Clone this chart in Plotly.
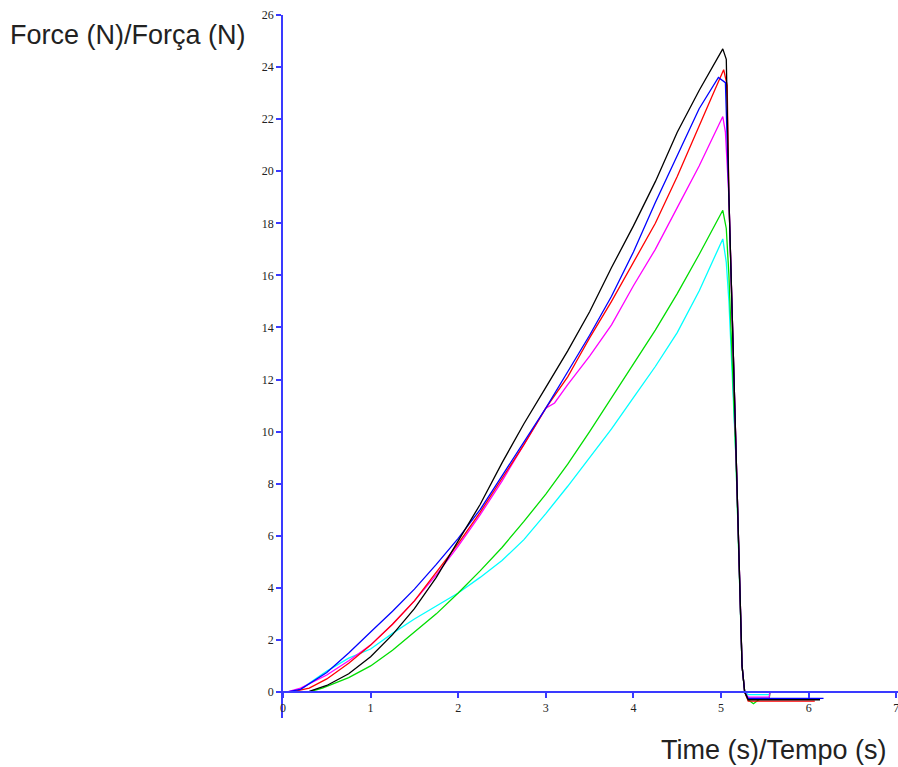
import plotly.graph_objects as go

# ---- data (time in s, force in N) ----
black_t = [0, 0.3, 0.5, 0.75, 1.0, 1.25, 1.5, 1.75, 2.0, 2.25, 2.5, 2.75, 3.0, 3.25, 3.5, 3.75, 4.0, 4.25, 4.5, 4.75, 5.02, 5.06, 5.09, 5.17, 5.24, 5.27, 5.31, 6.13]
black_f = [0, 0.02, 0.25, 0.7, 1.35, 2.2, 3.2, 4.4, 5.8, 7.2, 8.8, 10.3, 11.7, 13.1, 14.6, 16.3, 17.9, 19.6, 21.5, 23.1, 24.7, 24.3, 19.0, 9.0, 1.0, 0.0, -0.3, -0.3]

blue_t = [0.05, 0.2, 0.5, 0.75, 1.0, 1.25, 1.5, 1.75, 2.0, 2.25, 2.5, 2.75, 3.0, 3.25, 3.5, 3.75, 4.0, 4.25, 4.5, 4.75, 4.97, 5.05, 5.09, 5.17, 5.24, 5.27, 5.31, 6.17]
blue_f = [0, 0.1, 0.75, 1.5, 2.3, 3.1, 3.95, 4.9, 5.9, 7.0, 8.3, 9.6, 10.9, 12.3, 13.7, 15.2, 16.9, 18.8, 20.6, 22.4, 23.6, 23.4, 19.0, 9.0, 1.0, 0.0, -0.25, -0.25]

red_t = [0.1, 0.3, 0.5, 0.75, 1.0, 1.25, 1.5, 1.75, 2.0, 2.25, 2.5, 2.75, 3.0, 3.25, 3.35, 3.5, 3.75, 4.0, 4.25, 4.5, 4.75, 4.9, 5.03, 5.07, 5.09, 5.17, 5.24, 5.27, 5.31, 6.07]
red_f = [0, 0.15, 0.5, 1.1, 1.8, 2.6, 3.5, 4.6, 5.7, 6.9, 8.2, 9.5, 10.9, 12.1, 12.7, 13.6, 15.0, 16.5, 18.0, 19.8, 21.7, 22.9, 23.9, 23.3, 19.0, 9.0, 1.0, 0.0, -0.35, -0.35]

magenta_t = [0.05, 0.2, 0.5, 0.75, 1.0, 1.25, 1.5, 1.75, 2.0, 2.25, 2.5, 2.75, 3.0, 3.1, 3.25, 3.5, 3.75, 4.0, 4.25, 4.5, 4.75, 5.02, 5.05, 5.09, 5.17, 5.24, 5.27, 5.31, 5.55, 5.56, 6.02]
magenta_f = [0, 0.15, 0.65, 1.2, 1.8, 2.6, 3.5, 4.5, 5.6, 6.8, 8.1, 9.5, 10.9, 11.1, 11.8, 12.9, 14.1, 15.6, 17.0, 18.6, 20.2, 22.1, 21.5, 19.0, 9.0, 1.0, 0.0, -0.2, -0.2, 0.0, 0.0]

green_t = [0.3, 0.45, 0.75, 1.0, 1.25, 1.5, 1.75, 2.0, 2.25, 2.5, 2.75, 3.0, 3.25, 3.5, 3.75, 4.0, 4.25, 4.5, 4.75, 5.02, 5.06, 5.09, 5.17, 5.24, 5.27, 5.31, 5.37, 5.45, 5.55, 5.56, 6.05]
green_f = [0, 0.15, 0.55, 1.0, 1.6, 2.3, 3.0, 3.8, 4.65, 5.55, 6.55, 7.6, 8.75, 10.0, 11.3, 12.6, 13.9, 15.3, 16.8, 18.5, 17.8, 16.0, 9.0, 1.0, 0.0, -0.3, -0.45, -0.25, -0.25, 0.0, 0.0]

cyan_t = [0.1, 0.2, 0.5, 0.75, 1.0, 1.25, 1.5, 1.75, 2.0, 2.25, 2.5, 2.75, 3.0, 3.25, 3.5, 3.75, 4.0, 4.25, 4.5, 4.75, 5.02, 5.06, 5.09, 5.17, 5.24, 5.27, 5.31, 5.55, 5.56, 5.7]
cyan_f = [0, 0.1, 0.8, 1.3, 1.65, 2.25, 2.8, 3.3, 3.8, 4.4, 5.05, 5.85, 6.85, 7.9, 9.0, 10.1, 11.3, 12.5, 13.8, 15.4, 17.4, 16.5, 15.0, 9.0, 1.0, 0.0, -0.1, -0.1, 0.0, 0.0]

series = [
    (cyan_t, cyan_f, "#00ffff"),
    (green_t, green_f, "#00dd00"),
    (magenta_t, magenta_f, "#ff00ff"),
    (red_t, red_f, "#ff0000"),
    (blue_t, blue_f, "#0000ff"),
    (black_t, black_f, "#000000"),
]

x_ticks = [0, 1, 2, 3, 4, 5, 6, 7]
y_ticks = list(range(0, 27, 2))

fig = go.Figure()
for t, f, c in series:
    fig.add_trace(go.Scatter(x=t, y=f, mode="lines", line=dict(color=c, width=1.3),
                             showlegend=False, hoverinfo="skip"))

axis_blue = "#3a3aff"
tick_font = dict(family="Liberation Serif, DejaVu Serif, serif", size=12, color="#222222")
title_font = dict(family="Liberation Sans, Arial, sans-serif", size=27, color="#222222")

fig.update_layout(
    width=898, height=767,
    margin=dict(l=283, r=0, t=15, b=49),
    plot_bgcolor="white", paper_bgcolor="white",
    showlegend=False,
    xaxis=dict(range=[0, 7.02], tickvals=x_ticks, ticktext=[str(v) for v in x_ticks],
               showgrid=False, zeroline=False, showline=True, linecolor=axis_blue, linewidth=1.5,
               ticks="outside", ticklen=5, tickcolor=axis_blue, tickwidth=1.5,
               tickfont=tick_font, anchor="free", position=1/27,
               ticklabeloverflow="allow"),
    yaxis=dict(range=[-1, 26], tickvals=y_ticks, ticktext=[str(v) for v in y_ticks],
               showgrid=False, zeroline=False, showline=True, linecolor=axis_blue, linewidth=1.5,
               ticks="outside", ticklen=5, tickcolor=axis_blue, tickwidth=1.5,
               tickfont=tick_font, ticklabeloverflow="allow"),
    annotations=[
        dict(text="Force (N)/Força (N)", xref="paper", yref="paper",
             x=(8 - 283) / 615, y=(718 - 35) / 703, xanchor="left", yanchor="middle",
             showarrow=False, font=title_font),
        dict(text="Time (s)/Tempo (s)", xref="paper", yref="paper",
             x=(889 - 283) / 615, y=(718 - 750) / 703, xanchor="right", yanchor="middle",
             showarrow=False, font=title_font),
    ],
)

fig.write_html("out.html", config={"displayModeBar": False},
               post_script="document.body.style.margin='0';document.body.style.padding='0';")
